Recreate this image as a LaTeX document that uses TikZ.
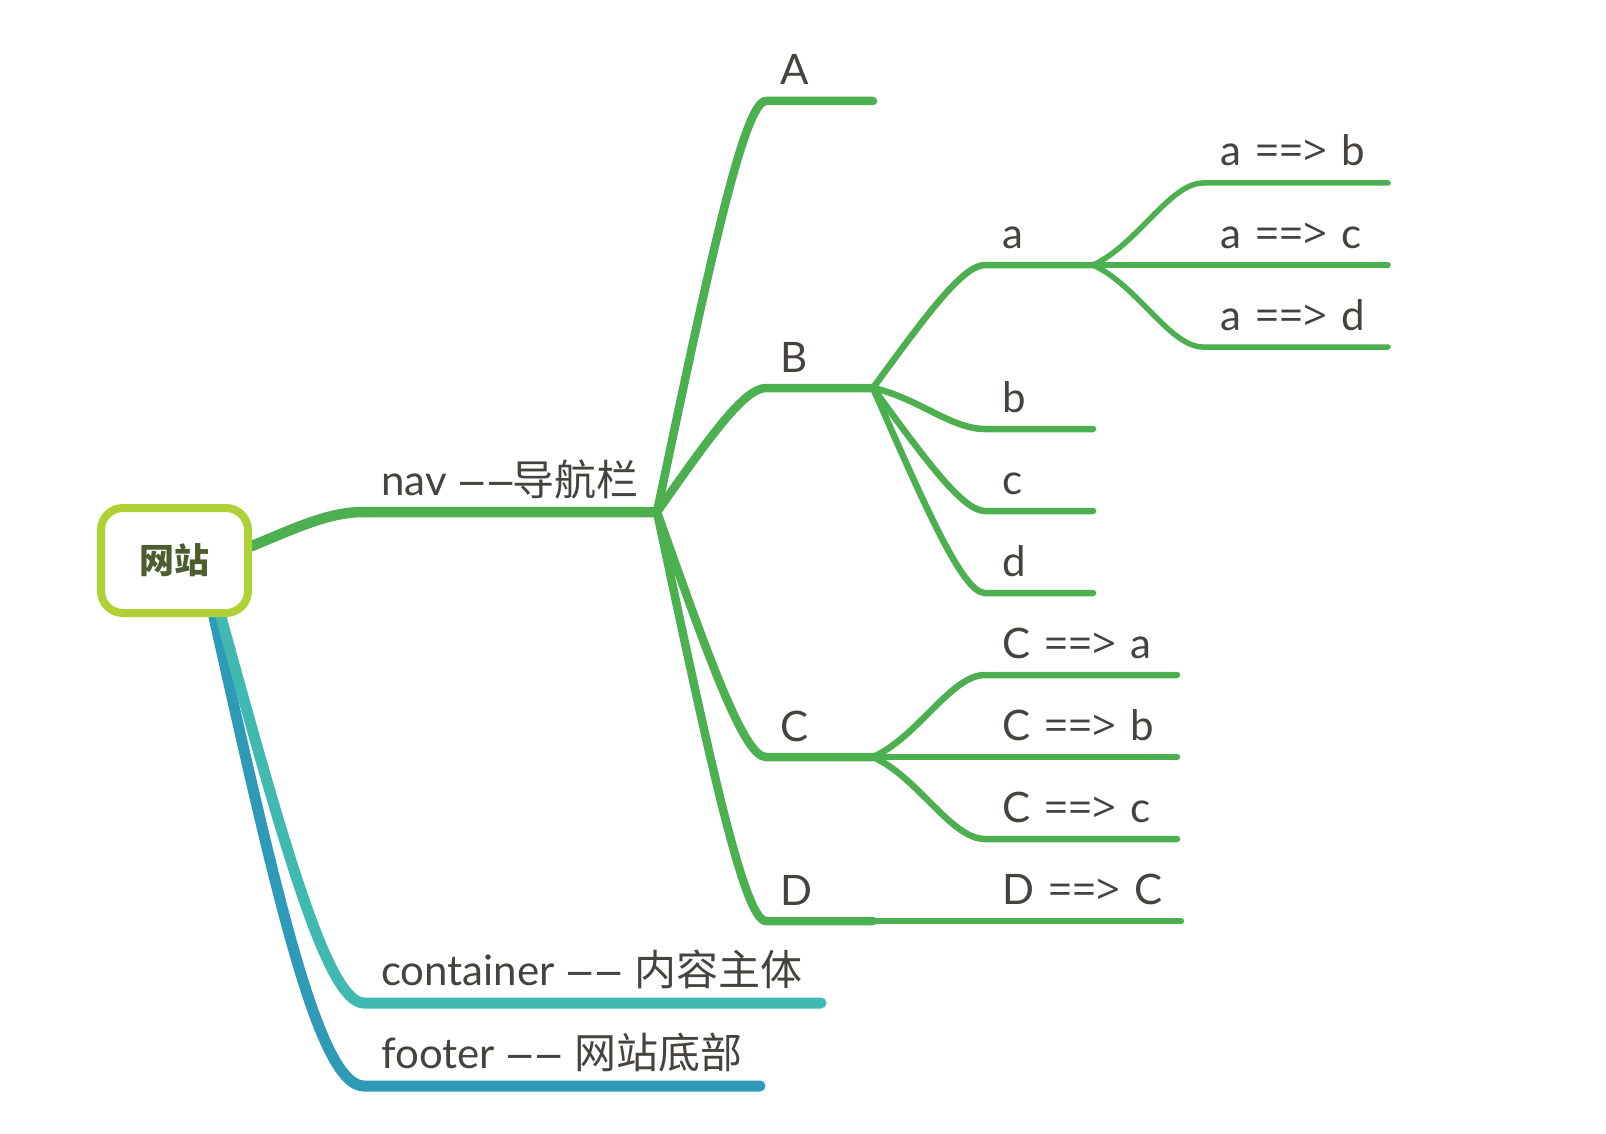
\documentclass[tikz,border=0pt]{standalone}
\usepackage{fontspec}
\usetikzlibrary{calc}
\setmainfont{Lato}[WordSpace=1.3]
\newfontfamily\cjk{Noto Sans CJK SC}
\newfontfamily\symf{Open Sans}
\newfontfamily\heros{TeX Gyre Heros}
\newcommand{\dd}{{\heros\textendash\kern5pt\textendash}}
\newcommand{\arr}{{\symf==>}}
\definecolor{gline}{HTML}{4CAF50}
\definecolor{rootc}{HTML}{AFD136}
\definecolor{teal}{HTML}{40BAB0}
\definecolor{blu}{HTML}{2E9AB8}
\definecolor{txt}{HTML}{46433E}
\definecolor{roottxt}{HTML}{4E5D2E}
\begin{document}
\begin{tikzpicture}[x=1pt,y=-1pt,
  lbl/.style={anchor=base west,inner sep=0pt,text=txt,font=\fontsize{42}{50}\selectfont},
  l0/.style={draw=gline,line width=10.5pt,line cap=round},
  l1/.style={draw=gline,line width=8.5pt,line cap=round},
  l2/.style={draw=gline,line width=6.5pt,line cap=round},
  l3/.style={draw=gline,line width=5.5pt,line cap=round}]
\useasboundingbox (0,0) rectangle (1606,1134);
% junction coordinates
\coordinate (rootE) at (252,546);
\coordinate (rootS1) at (221,617);
\coordinate (rootS2) at (214,617);
\coordinate (navS) at (364,512);
\coordinate (J) at (657,512);
\coordinate (A0) at (766,101); \coordinate (A1) at (873,101);
\coordinate (B0) at (766,388); \coordinate (JB) at (873,388);
\coordinate (C0) at (766,757); \coordinate (JC) at (873,757);
\coordinate (D0) at (766,921); \coordinate (JD) at (873,921);
\coordinate (a0) at (985,265); \coordinate (Ja) at (1093,265);
\coordinate (b0) at (985,429); \coordinate (b1) at (1093,429);
\coordinate (c0) at (985,511); \coordinate (c1) at (1093,511);
\coordinate (d0) at (985,593); \coordinate (d1) at (1093,593);
\coordinate (ab0) at (1203,183); \coordinate (ab1) at (1388,183);
\coordinate (ac1) at (1388,265);
\coordinate (ad0) at (1203,347); \coordinate (ad1) at (1388,347);
\coordinate (Ca0) at (985,675); \coordinate (Ca1) at (1177,675);
\coordinate (Cb1) at (1177,757);
\coordinate (Cc0) at (985,839); \coordinate (Cc1) at (1177,839);
\coordinate (DC0) at (985,921); \coordinate (DC1) at (1181,921);
\coordinate (ct0) at (364,1003); \coordinate (ct1) at (821,1003);
\coordinate (ft0) at (364,1086); \coordinate (ft1) at (760,1086);

% root children
\draw[draw=blu,line width=11pt,line cap=round] (rootS2) .. controls (277,898) and (319,1086) .. (ft0) -- (ft1);
\draw[draw=teal,line width=11pt,line cap=round] (rootS1) .. controls (285,849) and (328,1003) .. (ct0) -- (ct1);
\draw[l0] (rootE) .. controls (300,526) and (330,512) .. (navS) -- (J);

% level 1
\draw[l1] (J) .. controls (709,265) and (744,101) .. (A0) -- (A1);
\draw[l1] (J) .. controls (709,438) and (744,388) .. (B0) -- (JB);
\draw[l1] (J) .. controls (709,659) and (744,757) .. (C0) -- (JC);
\draw[l1] (J) .. controls (709,757) and (744,921) .. (D0) -- (JD);

% level 2 under B
\draw[l2] (JB) .. controls (927,314) and (963,265) .. (a0) -- (Ja);
\draw[l2] (JB) .. controls (918,398) and (951,429) .. (b0) -- (b1);
\draw[l2] (JB) .. controls (927,462) and (963,511) .. (c0) -- (c1);
\draw[l2] (JB) .. controls (927,511) and (963,593) .. (d0) -- (d1);

% level 3 under a
\draw[l3] (Ja) .. controls (1137,245) and (1170,183) .. (ab0) -- (ab1);
\draw[l3] (Ja) -- (ac1);
\draw[l3] (Ja) .. controls (1137,285) and (1170,347) .. (ad0) -- (ad1);

% level 2 under C and D
\draw[l2] (JC) .. controls (918,737) and (951,675) .. (Ca0) -- (Ca1);
\draw[l2] (JC) -- (Cb1);
\draw[l2] (JC) .. controls (918,777) and (951,839) .. (Cc0) -- (Cc1);
\draw[l2] (JD) -- (DC1);

% root
\node[draw=rootc,line width=8pt,rounded corners=22pt,fill=white,
  minimum width=147pt,minimum height=105pt,inner sep=0pt,
  text=roottxt,font=\cjk\bfseries\fontsize{35}{40}\selectfont] (root) at (174.5,560.5) {网站};

% labels
\node[lbl] (tnav) at ($(navS)+(17,-17)$) {nav \dd{\cjk 导航栏}};
\node[lbl] (tA) at ($(A0)+(14,-16)$) {A};
\node[lbl] (tB) at ($(B0)+(14,-16)$) {B};
\node[lbl] (tC) at ($(C0)+(14,-16)$) {C};
\node[lbl] (tD) at ($(D0)+(14,-16)$) {D};
\node[lbl] (ta) at ($(a0)+(17,-17)$) {a};
\node[lbl] (tb) at ($(b0)+(17,-17)$) {b};
\node[lbl] (tc) at ($(c0)+(17,-17)$) {c};
\node[lbl] (td) at ($(d0)+(17,-17)$) {d};
\node[lbl] (tab) at ($(ab0)+(17,-17)$) {a \arr{} b};
\node[lbl] (tac) at ($(ab0|-ac1)+(17,-17)$) {a \arr{} c};
\node[lbl] (tad) at ($(ad0)+(17,-17)$) {a \arr{} d};
\node[lbl] (tCa) at ($(Ca0)+(17,-17)$) {C \arr{} a};
\node[lbl] (tCb) at ($(Ca0|-Cb1)+(17,-17)$) {C \arr{} b};
\node[lbl] (tCc) at ($(Cc0)+(17,-17)$) {C \arr{} c};
\node[lbl] (tDC) at ($(DC0)+(17,-17)$) {D \arr{} C};
\node[lbl] (tct) at ($(ct0)+(17,-18)$) {container \dd{} {\cjk 内容主体}};
\node[lbl] (tft) at ($(ft0)+(17,-18)$) {footer \dd{} {\cjk 网站底部}};
\end{tikzpicture}
\end{document}
